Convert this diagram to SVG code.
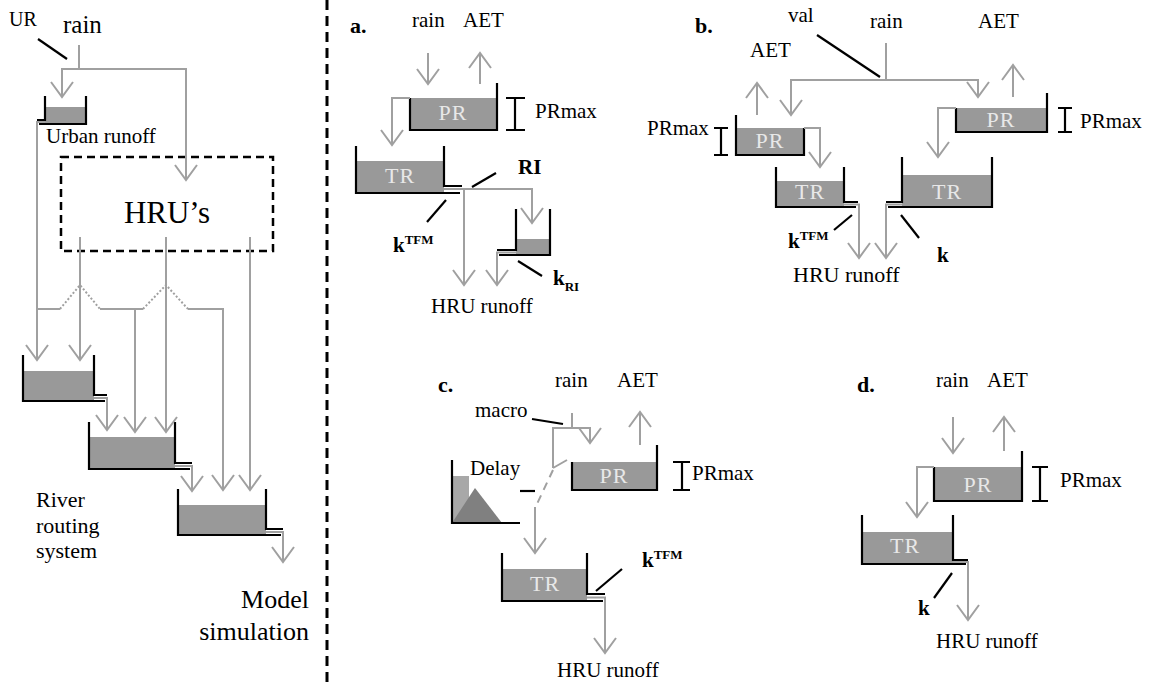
<svg xmlns="http://www.w3.org/2000/svg" width="1155" height="688" viewBox="0 0 1155 688" font-family="'Liberation Serif', 'Times New Roman', serif">
<defs>
<marker id="ah" viewBox="-16 -12 18 24" refX="0" refY="0" markerWidth="18" markerHeight="24" markerUnits="userSpaceOnUse" orient="auto"><path d="M-15,-11 L0,0 L-15,11" fill="none" stroke="#a0a0a0" stroke-width="2"/></marker>
<style>
text{font-family:'Liberation Serif','Times New Roman',serif;fill:#000}
.t{font-size:21px}
.b{font-weight:bold}
.lab{font-size:22px;fill:#e8e8e8;text-anchor:middle;letter-spacing:1px}
.g{fill:none;stroke:#a0a0a0;stroke-width:2}
.ga{fill:none;stroke:#a0a0a0;stroke-width:2;marker-end:url(#ah)}
.k{fill:none;stroke:#000;stroke-width:2.2}
.fill{fill:#999999;stroke:none}
.dot{fill:none;stroke:#a0a0a0;stroke-width:2;stroke-dasharray:2 2}
</style>
</defs>
<rect width="1155" height="688" fill="#fff"/>

<!-- Left panel -->
<g id="left-labels">
<text x="9" y="26" font-size="20">UR</text>
<text x="63" y="33" font-size="25">rain</text>
<line class="k" x1="38" y1="39" x2="67" y2="59"/>
</g>
<g id="urban-bucket">
<rect class="fill" x="45" y="107" width="41" height="17"/>
<path class="k" d="M86,96 V124 H39"/>
<path class="k" d="M45,96 V120 H37"/>
<text x="46" y="143" font-size="21">Urban runoff</text>
</g>
<g id="hrus">
<rect x="61" y="157" width="212" height="94" fill="none" stroke="#000" stroke-width="2.5" stroke-dasharray="8 5"/>
<text x="167" y="223" font-size="31" text-anchor="middle">HRU’s</text>
</g>
<g id="river-bucket-1">
<rect class="fill" x="23" y="371" width="71" height="30"/>
<path class="k" d="M23,355 V401 H105"/>
<path class="k" d="M94,355 V395 H107"/>
</g>
<g id="river-bucket-2">
<rect class="fill" x="89" y="437" width="86" height="32"/>
<path class="k" d="M89,422 V469 H190"/>
<path class="k" d="M175,422 V463 H192"/>
</g>
<g id="river-bucket-3">
<rect class="fill" x="178" y="505" width="88" height="30"/>
<path class="k" d="M178,489 V535 H281"/>
<path class="k" d="M266,489 V529 H283"/>
</g>
<g id="left-text">
<text x="36" y="507" font-size="22">River</text>
<text x="36" y="533" font-size="22">routing</text>
<text x="36" y="558" font-size="22">system</text>
<text x="309" y="608" font-size="26" text-anchor="end">Model</text>
<text x="309" y="640" font-size="26" text-anchor="end">simulation</text>
</g>
<line x1="327" y1="0" x2="327" y2="688" stroke="#000" stroke-width="3" stroke-dasharray="10 6"/>

<!-- Panel a -->
<g id="panel-a">
<text x="350" y="33" class="b" font-size="22">a.</text>
<text x="412" y="27" class="t">rain</text>
<text x="463" y="27" class="t">AET</text>
<g id="a-PR">
<rect class="fill" x="410" y="98" width="87" height="32"/>
<path class="k" d="M410,98 V130 H497 V83"/>
<text x="453" y="120" class="lab">PR</text>
</g>
<path class="k" d="M515,98 V130 M506,98 H525 M506,130 H525"/>
<text x="535" y="118" class="t">PRmax</text>
<g id="a-TR">
<rect class="fill" x="357" y="161" width="87" height="32"/>
<path class="k" d="M356,146 V193 H460"/>
<path class="k" d="M444,146 V186 H462"/>
<text x="400" y="183" class="lab">TR</text>
</g>
<line class="k" x1="472" y1="187" x2="496" y2="173"/>
<text x="518" y="174" class="t b">RI</text>
<line class="k" x1="446" y1="200" x2="427" y2="222"/>
<text x="393" y="252" class="t b">k<tspan dy="-8" font-size="13">TFM</tspan></text>
<g id="a-RI">
<rect class="fill" x="516" y="239" width="34" height="16"/>
<path class="k" d="M550,209 V255 H499"/>
<path class="k" d="M516,209 V250 H497"/>
</g>
<line class="k" x1="518" y1="261" x2="542" y2="276"/>
<text x="553" y="285" class="t b">k<tspan dy="6" font-size="13">RI</tspan></text>
<text x="431" y="313" class="t">HRU runoff</text>
</g>

<!-- Panel b -->
<g id="panel-b">
<text x="695" y="33" class="b" font-size="22">b.</text>
<text x="788" y="22" class="t">val</text>
<text x="870" y="28" class="t">rain</text>
<text x="978" y="28" class="t">AET</text>
<text x="750" y="57" class="t">AET</text>
<line class="k" x1="817" y1="35" x2="880" y2="77"/>
<g id="b-PR-left">
<rect class="fill" x="736" y="128" width="68" height="27"/>
<path class="k" d="M736,115 V155 H804 V128"/>
<text x="770" y="148" class="lab">PR</text>
</g>
<path class="k" d="M721,128 V155 M714,128 H728 M714,155 H728"/>
<text x="647" y="135" class="t">PRmax</text>
<g id="b-TR-left">
<rect class="fill" x="776" y="181" width="68" height="26"/>
<path class="k" d="M776,167 V207 H856"/>
<path class="k" d="M844,167 V202 H858"/>
<text x="810" y="199" class="lab">TR</text>
</g>
<g id="b-TR-right">
<rect class="fill" x="902" y="175" width="90" height="32"/>
<path class="k" d="M992,157 V207 H888"/>
<path class="k" d="M902,157 V202 H886"/>
<text x="947" y="199" class="lab">TR</text>
</g>
<g id="b-PR-right">
<rect class="fill" x="956" y="108" width="91" height="24"/>
<path class="k" d="M956,108 V132 H1047 V93"/>
<text x="1001" y="127" class="lab">PR</text>
</g>
<path class="k" d="M1065,108 V132 M1058,108 H1072 M1058,132 H1072"/>
<text x="1080" y="128" class="t">PRmax</text>
<line class="k" x1="852" y1="215" x2="834" y2="230"/>
<text x="788" y="248" class="t b">k<tspan dy="-8" font-size="13">TFM</tspan></text>
<line class="k" x1="901" y1="215" x2="919" y2="238"/>
<text x="937" y="262" class="t b">k</text>
<text x="793" y="282" font-size="22">HRU runoff</text>
</g>

<!-- Panel c -->
<g id="panel-c">
<text x="438" y="392" class="b" font-size="22">c.</text>
<text x="555" y="387" class="t">rain</text>
<text x="617" y="387" class="t">AET</text>
<text x="475" y="417" class="t">macro</text>
<line class="k" x1="532" y1="419" x2="563" y2="424"/>
<g id="c-PR">
<rect class="fill" x="572" y="462" width="85" height="28"/>
<path class="k" d="M572,462 V490 H657 V445"/>
<text x="614" y="483" class="lab">PR</text>
</g>
<path class="k" d="M682,462 V490 M673,462 H690 M673,490 H690"/>
<text x="692" y="480" class="t">PRmax</text>
<g id="c-delay">
<rect x="452" y="476" width="17" height="47" fill="#a8a8a8"/>
<polygon points="452,523 475,488 502,523" fill="#808080"/>
<path class="k" d="M452,460 V523 H520"/>
<text x="470" y="475" class="t">Delay</text>
</g>
<line class="k" x1="520" y1="491" x2="535" y2="491"/>
<g id="c-TR">
<rect class="fill" x="502" y="569" width="85" height="32"/>
<path class="k" d="M502,553 V601 H603"/>
<path class="k" d="M587,553 V594 H605"/>
<text x="545" y="591" class="lab">TR</text>
</g>
<line class="k" x1="596" y1="591" x2="622" y2="569"/>
<text x="642" y="567" class="t b">k<tspan dy="-8" font-size="13">TFM</tspan></text>
<text x="557" y="677" class="t">HRU runoff</text>
</g>

<!-- Panel d -->
<g id="panel-d">
<text x="857" y="392" class="b" font-size="22">d.</text>
<text x="936" y="387" class="t">rain</text>
<text x="987" y="387" class="t">AET</text>
<g id="d-PR">
<rect class="fill" x="934" y="467" width="88" height="34"/>
<path class="k" d="M934,467 V501 H1022 V451"/>
<text x="978" y="492" class="lab">PR</text>
</g>
<path class="k" d="M1040,467 V501 M1032,467 H1048 M1032,501 H1048"/>
<text x="1060" y="487" class="t">PRmax</text>
<g id="d-TR">
<rect class="fill" x="862" y="532" width="91" height="32"/>
<path class="k" d="M862,515 V564 H966"/>
<path class="k" d="M953,515 V560 H968"/>
<text x="905" y="553" class="lab">TR</text>
</g>
<line class="k" x1="952" y1="573" x2="934" y2="598"/>
<text x="918" y="615" class="t b">k</text>
<text x="936" y="648" class="t">HRU runoff</text>
</g>

<!-- Connectors -->
<g id="connectors">
<path class="g" d="M79,45 V69"/>
<path class="ga" d="M79,69 H62 V97"/>
<path class="ga" d="M79,69 H186 V180"/>
<path class="ga" d="M45,122 H37 V360"/>
<path class="ga" d="M80,237 V360"/>
<path class="ga" d="M166,237 V432"/>
<path class="ga" d="M250,237 V490"/>
<path class="g" d="M38,309 H60"/>
<path class="dot" d="M60,309 L80,285 L100,309"/>
<path class="g" d="M100,309 H143"/>
<path class="dot" d="M143,309 L166,285 L188,309"/>
<path class="ga" d="M188,309 H223 V490"/>
<path class="ga" d="M135,309 V432"/>
<path class="ga" d="M94,398 H107 V430"/>
<path class="ga" d="M175,466 H192 V491"/>
<path class="ga" d="M266,532 H283 V562"/>

<path class="ga" d="M428,53 V84"/>
<path class="ga" d="M480,84 V53"/>
<path class="ga" d="M410,98 H392 V145"/>
<path class="ga" d="M444,189 H532 V223"/>
<path class="ga" d="M464,189 V285"/>
<path class="ga" d="M516,252.5 H497 V285"/>

<path class="g" d="M886,43 V80"/>
<path class="ga" d="M886,80 H791 V115"/>
<path class="ga" d="M886,80 H978 V97"/>
<path class="ga" d="M757,115 V83"/>
<path class="ga" d="M1013,97 V65"/>
<path class="ga" d="M804,128 H820 V167"/>
<path class="ga" d="M956,108 H938 V157"/>
<path class="ga" d="M844,204.5 H859 V258"/>
<path class="ga" d="M902,204.5 H886 V258"/>

<path class="g" d="M572,413 V428"/>
<path class="ga" d="M553,468 V428 H590 V443"/>
<path class="g" d="M553,468 L567,460"/>
<path class="g" d="M553,470 L536,506" stroke-dasharray="8 6"/>
<path class="ga" d="M535,507 V553"/>
<path class="ga" d="M640,445 V412"/>
<path class="ga" d="M587,597.5 H605 V653"/>

<path class="ga" d="M953,417 V453"/>
<path class="ga" d="M1004,451 V417"/>
<path class="ga" d="M934,467 H917 V517"/>
<path class="ga" d="M953,562 H968 V620"/>
</g>
</svg>
